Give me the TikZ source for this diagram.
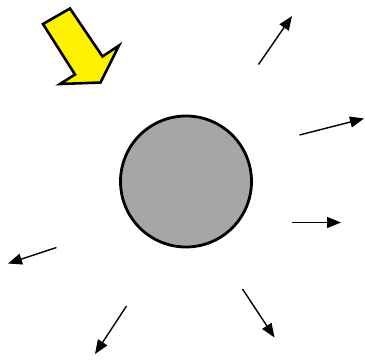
\documentclass[tikz,border=0pt]{standalone}
\usetikzlibrary{arrows.meta}
\definecolor{bodygray}{RGB}{166,166,166}
\begin{document}
\begin{tikzpicture}[x=1pt,y=-1pt,
  ray/.style={line width=1.4pt,-{Triangle[length=14pt,width=11pt]}},
  sunarrow/.style={draw=black,fill=yellow,line width=2.6pt,line join=miter},
  bodystyle/.style={circle,draw=black,fill=bodygray,line width=2.8pt,minimum size=131pt,inner sep=0pt}]
\useasboundingbox (0,0) rectangle (365,360);
% incoming arrow
\draw[sunarrow] (43,24) -- (70,8.5) -- (102.5,56.5) -- (119,45.5) -- (100.5,82.5) -- (60,84) -- (75,74.5) -- cycle;
% body
\node[bodystyle] (body) at (186,181.5) {};
% outgoing rays
\coordinate (a1) at (258.5,64.5); \coordinate (b1) at (292,16);
\coordinate (a2) at (299.5,135); \coordinate (b2) at (364,118.5);
\coordinate (a3) at (291.5,222.5); \coordinate (b3) at (341,222.5);
\coordinate (a4) at (242.5,289); \coordinate (b4) at (274.5,337.5);
\coordinate (a5) at (126.5,306); \coordinate (b5) at (95,354);
\coordinate (a6) at (56.5,247.5); \coordinate (b6) at (8,263.5);
\foreach \i in {1,...,6} \draw[ray] (a\i) -- (b\i);
\end{tikzpicture}
\end{document}
